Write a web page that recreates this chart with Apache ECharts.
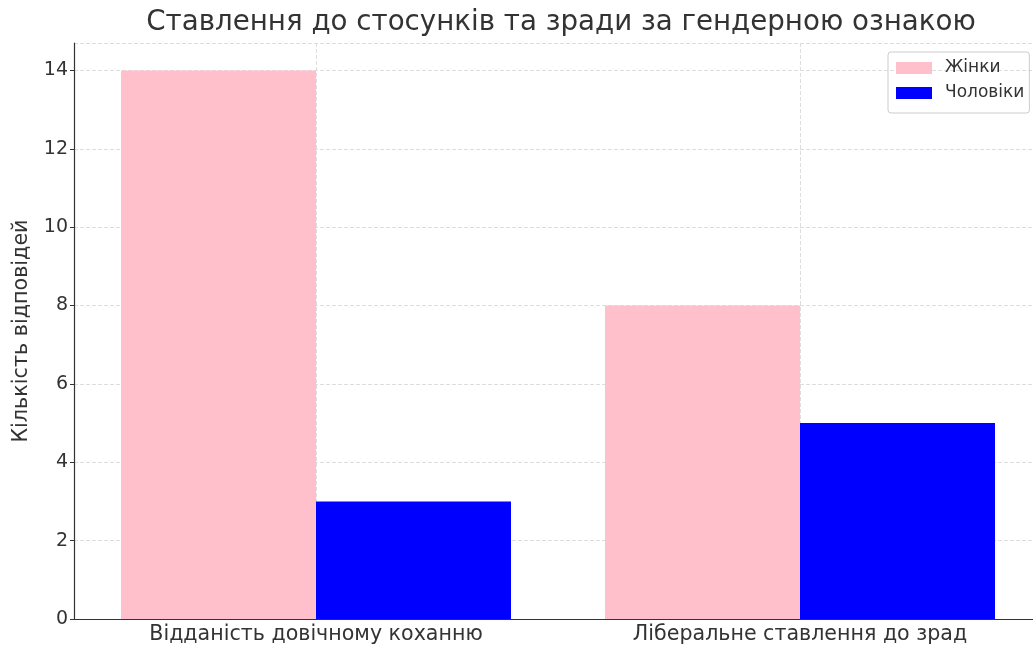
<!DOCTYPE html>
<html>
<head>
<meta charset="utf-8">
<script src="https://cdn.jsdelivr.net/npm/echarts@6/dist/echarts.min.js"></script>
<style>
html,body{margin:0;padding:0;background:#fff;}
#chart{width:1033px;height:648px;}
</style>
</head>
<body>
<div id="chart"></div>
<script>
var categories = ["Відданість довічному коханню", "Ліберальне ставлення до зрад"];
var women = [14, 8];
var men = [3, 5];
var seriesNames = ["Жінки", "Чоловіки"];

var myChart = echarts.init(document.getElementById("chart"));
var font = "DejaVu Sans";
var option = {
	backgroundColor: "#fff",
	title: {
		text: "Ставлення до стосунків та зради за гендерною ознакою",
		left: 556,
		textAlign: "center",
		top: 4,
		textStyle: {fontFamily: font, fontSize: 27.7, fontWeight: "normal", color: "#333"}
	},
	legend: {
		data: seriesNames,
		orient: "vertical",
		left: 888,
		top: 52,
		icon: "rect",
		itemWidth: 36,
		itemHeight: 12,
		itemGap: 5,
		padding: [6, 5, 10, 8],
		borderColor: "#ccc",
		borderWidth: 1,
		borderRadius: 3,
		textStyle: {fontFamily: font, fontSize: 17, color: "#333", lineHeight: 20, padding: [0, 0, 0, 8]}
	},
	grid: {left: 74, right: -9, top: 43, bottom: 29, outerBoundsMode: "none", containLabel: false},
	xAxis: {
		type: "category",
		data: categories,
		axisLine: {lineStyle: {color: "#333", width: 1.2}},
		axisTick: {show: false},
		axisLabel: {fontFamily: font, fontSize: 20.6, color: "#333", margin: 5},
		splitLine: {show: true, alignWithLabel: true, lineStyle: {color: "#ddd", type: "dashed"}}
	},
	yAxis: {
		type: "value",
		min: 0,
		max: 14.7,
		interval: 2,
		name: "Кількість відповідей",
		nameLocation: "middle",
		nameGap: 42,
		nameTextStyle: {fontFamily: font, fontSize: 20.7, color: "#333"},
		axisLine: {show: true, lineStyle: {color: "#333", width: 1.2}},
		axisTick: {show: true, length: 4, lineStyle: {color: "#333"}},
		axisLabel: {fontFamily: font, fontSize: 19, color: "#333", margin: 6,
			showMaxLabel: false},
		splitLine: {show: true, lineStyle: {color: "#ddd", type: "dashed"}}
	},
	series: [{
		name: seriesNames[0],
		type: "bar",
		data: women,
		barWidth: 195,
		barGap: "0%",
		itemStyle: {color: "#FFC0CB"}
	}, {
		name: seriesNames[1],
		type: "bar",
		data: men,
		barWidth: 195,
		barGap: "0%",
		itemStyle: {color: "#0000FF"}
	}]
};
myChart.setOption(option);
</script>
</body>
</html>
